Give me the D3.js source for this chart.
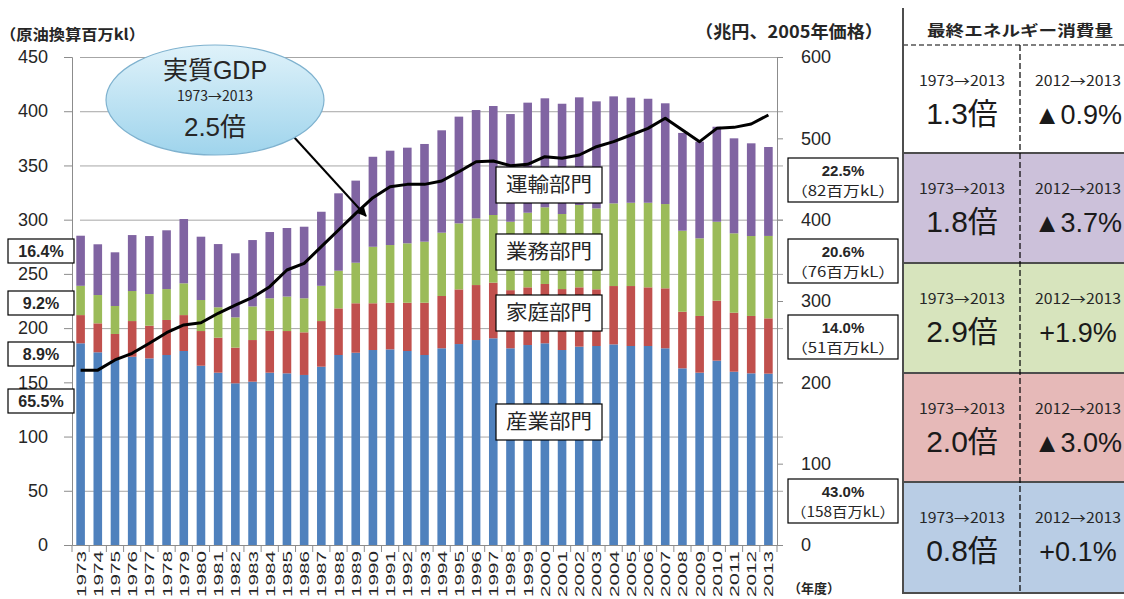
<!DOCTYPE html>
<html>
<head>
<meta charset="utf-8">
<script src="https://cdn.jsdelivr.net/npm/d3@7"></script>
<style>
  body { margin: 0; background: #fff; }
  svg { font-family: "Liberation Sans", "Noto Sans CJK JP", sans-serif; }
  .grid line { stroke: #a6a6a6; stroke-width: 1; }
  .grid path { display: none; }
  .axis-left text, .axis-right text { font-size: 18px; fill: #262626; }
  .jp { font-family: "Noto Sans CJK JP", sans-serif; }
</style>
</head>
<body>
<div id="chart"></div>
<script>
// data (百万kl, 兆円)
const years = d3.range(1973, 2014);
const industry = [186, 177.7, 170.6, 173.6, 172.1, 175.2, 178.9, 165.3, 158.9, 149.1, 150.6, 158.9, 158.3, 156.8, 164.4, 175.2, 177.3, 179.8, 180.4, 178.9, 175.2, 181.4, 185.3, 189, 190.6, 181.4, 184.4, 186, 179.8, 182.9, 183.5, 185, 183.5, 183.5, 181.4, 162.9, 158.9, 170, 159.8, 158.3, 158];
const household = [26, 26.7, 24, 32.9, 30.1, 32.3, 33.1, 32, 32.3, 32.9, 38.4, 38.7, 39, 39.3, 42.1, 43, 45.6, 43.1, 43, 44.5, 48.2, 48.2, 50.4, 50.7, 51.3, 53.6, 53.2, 54.7, 56.2, 54.7, 52.3, 53.8, 55.3, 54.1, 55.3, 52.2, 52.3, 55.3, 54.4, 52.9, 51];
const commercial = [27, 26.1, 25.8, 27.7, 29.2, 28.5, 29.3, 28.6, 28, 27.9, 31, 29.9, 31.8, 31.4, 32.5, 34.7, 37.4, 52.1, 53.2, 54.8, 56.3, 58.4, 60.9, 61.5, 62.4, 63.1, 68.8, 70.7, 69.2, 75.9, 74.6, 76.2, 76.8, 78, 77.7, 74.7, 71.6, 72.8, 73.2, 73.7, 76];
const transport = [46.2, 46.8, 49.5, 51.6, 53.5, 54.2, 59.3, 58.4, 58.3, 59.1, 61.2, 61.1, 63.2, 66, 68.3, 71.4, 75.7, 83, 87, 88.2, 90.1, 94.4, 98.4, 99.9, 100.5, 99.3, 101.5, 100.5, 101.7, 99.3, 98.7, 98.7, 96.9, 95.9, 92.9, 90.2, 89.1, 87.6, 87.6, 85.5, 82];
const gdp = [215, 215, 227.5, 235.7, 248, 261, 270.5, 273.3, 284.9, 295, 304.5, 317.6, 338.1, 346.3, 366.8, 387.3, 407.8, 427, 440.5, 443.4, 443.4, 447.5, 459, 471.3, 472.1, 466.4, 468.1, 477.4, 475.4, 479.5, 489.7, 495.9, 504.1, 512.3, 524.6, 510.2, 495.9, 512.3, 513.5, 517.6, 528.7];

const sectorKeys = ['industry', 'household', 'commercial', 'transport'];
const sectorColors = ['#4f81bd', '#c0504d', '#9bbb59', '#8064a2'];
const sectorNames = ['産業部門', '家庭部門', '業務部門', '運輸部門'];
const leftTicks = d3.range(0, 451, 50);
const rightTicks = d3.range(0, 601, 100);

// share boxes: 1973 on the left, 2013 on the right
const shares1973 = ['65.5%', '8.9%', '9.2%', '16.4%'];
const shares2013 = ['43.0%', '14.0%', '20.6%', '22.5%'];
const amounts2013 = ['（158百万kL）', '（51百万kL）', '（76百万kL）', '（82百万kL）'];

// side table
const tableFills = ['#ffffff', '#ccc1da', '#d7e4bd', '#e6b9b8', '#b9cde5'];
const ratio1973 = ['1.3倍', '1.8倍', '2.9倍', '2.0倍', '0.8倍'];
const change2012 = ['▲0.9%', '▲3.7%', '+1.9%', '▲3.0%', '+0.1%'];

const W = 1124, H = 599;
const plot = {left: 72, right: 777, top: 57, bottom: 545};

const svg = d3.select('#chart').append('svg')
    .attr('width', W)
    .attr('height', H);

const defs = svg.append('defs');

// scales
const x = d3.scaleBand()
    .domain(years)
    .range([plot.left, plot.right])
    .paddingInner(0.5)
    .paddingOuter(0.25);
const yLeft = d3.scaleLinear().domain([0, 450]).range([plot.bottom, plot.top]);
const yRight = d3.scaleLinear().domain([0, 600]).range([plot.bottom, plot.top]);

// grid
svg.append('g')
    .attr('class', 'grid')
    .attr('transform', `translate(${plot.left},0)`)
    .call(d3.axisLeft(yLeft).tickValues(leftTicks.slice(1)).tickSize(-(plot.right - plot.left + 6)).tickFormat(''))
    .call(g => g.selectAll('line').attr('x1', 8));

// left axis
const leftAxis = svg.append('g')
    .attr('class', 'axis-left')
    .attr('transform', `translate(${plot.left},0)`)
    .call(d3.axisLeft(yLeft).tickValues(leftTicks).tickSize(8).tickPadding(16));
leftAxis.select('.domain').attr('stroke', '#8c8c8c');
leftAxis.selectAll('line').attr('stroke', '#8c8c8c');

// right axis
const rightAxis = svg.append('g')
    .attr('class', 'axis-right')
    .attr('transform', `translate(${plot.right},0)`)
    .call(d3.axisRight(yRight).tickValues(rightTicks).tickSize(6).tickPadding(18));
rightAxis.select('.domain').attr('stroke', '#8c8c8c');
rightAxis.selectAll('line').attr('stroke', '#8c8c8c');
rightAxis.selectAll('text').attr('text-anchor', 'start');

// stacked bars
const rows = years.map((yr, i) => ({
  year: yr,
  industry: industry[i],
  household: household[i],
  commercial: commercial[i],
  transport: transport[i]
}));
const stacked = d3.stack().keys(sectorKeys)(rows);

svg.append('g').selectAll('g')
  .data(stacked)
  .join('g')
    .attr('fill', (d, i) => sectorColors[i])
  .selectAll('rect')
  .data(d => d)
  .join('rect')
    .attr('x', d => x(d.data.year))
    .attr('width', x.bandwidth())
    .attr('y', d => yLeft(d[1]))
    .attr('height', d => yLeft(d[0]) - yLeft(d[1]));

// x axis
const xAxis = svg.append('g')
    .attr('transform', `translate(0,${plot.bottom})`)
    .call(d3.axisBottom(x).tickSize(0).tickFormat(''));
xAxis.select('.domain').attr('stroke', '#8c8c8c');

// ticks between the bars
svg.append('g').selectAll('line')
  .data(years.concat([2014]))
  .join('line')
    .attr('x1', d => (d === 2014 ? plot.right : x(d) - x.step() * 0.25))
    .attr('x2', d => (d === 2014 ? plot.right : x(d) - x.step() * 0.25))
    .attr('y1', plot.bottom)
    .attr('y2', plot.bottom + 7)
    .attr('stroke', '#8c8c8c');

// year labels
svg.append('g').selectAll('text')
  .data(years)
  .join('text')
    .attr('transform', d => `translate(${x(d) + x.bandwidth() / 2 + 5},${plot.bottom + 6}) rotate(-90)`)
    .attr('text-anchor', 'end')
    .attr('font-size', 13)
    .attr('fill', '#262626')
    .attr('textLength', 46)
    .attr('lengthAdjust', 'spacingAndGlyphs')
    .text(d => d);

// GDP line
const gdpLine = d3.line()
    .x((d, i) => x(years[i]) + x.bandwidth() / 2)
    .y(d => yRight(d));
svg.append('path')
    .datum(gdp)
    .attr('fill', 'none')
    .attr('stroke', '#000')
    .attr('stroke-width', 3)
    .attr('stroke-linejoin', 'round')
    .attr('d', gdpLine);

// axis titles
svg.append('text')
    .attr('class', 'jp')
    .attr('x', 0).attr('y', 40)
    .attr('font-size', 15).attr('font-weight', 'bold').attr('fill', '#262626')
    .attr('textLength', 145).attr('lengthAdjust', 'spacingAndGlyphs')
    .text('（原油換算百万kl）');
svg.append('text')
    .attr('class', 'jp')
    .attr('x', 695).attr('y', 38)
    .attr('font-size', 17).attr('font-weight', 'bold').attr('fill', '#262626')
    .attr('textLength', 188).attr('lengthAdjust', 'spacingAndGlyphs')
    .text('（兆円、2005年価格）');
svg.append('text')
    .attr('class', 'jp')
    .attr('x', 788).attr('y', 593)
    .attr('font-size', 13).attr('font-weight', 'bold').attr('fill', '#262626')
    .text('（年度）');

// sector name boxes inside the plot
const sectorLabelY = [422, 313, 252, 185];
sectorNames.forEach((name, i) => {
  const g = svg.append('g').attr('transform', `translate(549,${sectorLabelY[i]})`);
  g.append('rect')
      .attr('x', -53).attr('y', -18).attr('width', 106).attr('height', 36)
      .attr('fill', '#fff').attr('stroke', '#000').attr('stroke-width', 1.2);
  g.append('text')
      .attr('class', 'jp')
      .attr('x', -43).attr('dy', '0.35em')
      .attr('font-size', 20).attr('fill', '#262626')
      .attr('textLength', 86).attr('lengthAdjust', 'spacingAndGlyphs')
      .text(name);
});

// 1973 share boxes (left)
const leftBoxY = [401, 354, 303, 251];
shares1973.forEach((s, i) => {
  svg.append('rect')
      .attr('x', 8).attr('y', leftBoxY[i] - 12).attr('width', 66).attr('height', 24)
      .attr('fill', '#fff').attr('stroke', '#000').attr('stroke-width', 1.2);
  svg.append('text')
      .attr('x', 41).attr('y', leftBoxY[i]).attr('dy', '0.36em')
      .attr('text-anchor', 'middle')
      .attr('font-size', 16).attr('font-weight', 'bold').attr('fill', '#262626')
      .text(s);
});

// 2013 share boxes (right)
const rightBoxY = [501, 337, 261, 180];
shares2013.forEach((s, i) => {
  const g = svg.append('g').attr('transform', `translate(843,${rightBoxY[i]})`);
  g.append('rect')
      .attr('x', -55).attr('y', -22).attr('width', 110).attr('height', 44)
      .attr('fill', '#fff').attr('stroke', '#000').attr('stroke-width', 1.2);
  g.append('text')
      .attr('text-anchor', 'middle').attr('y', -4)
      .attr('font-size', 15).attr('font-weight', 'bold').attr('fill', '#262626')
      .text(s);
  g.append('text')
      .attr('class', 'jp')
      .attr('text-anchor', 'middle').attr('y', 16)
      .attr('font-size', 14).attr('fill', '#262626')
      .attr('textLength', 104).attr('lengthAdjust', 'spacingAndGlyphs')
      .text(amounts2013[i]);
});

// GDP bubble with arrow
const grad = defs.append('linearGradient')
    .attr('id', 'bubbleFill')
    .attr('x1', 0).attr('y1', 0).attr('x2', 0).attr('y2', 1);
grad.append('stop').attr('offset', '0%').attr('stop-color', '#dff2fa');
grad.append('stop').attr('offset', '100%').attr('stop-color', '#9fd4ec');

defs.append('marker')
    .attr('id', 'arrowHead')
    .attr('viewBox', '0 0 10 10')
    .attr('refX', 9).attr('refY', 5)
    .attr('markerWidth', 5).attr('markerHeight', 5)
    .attr('orient', 'auto')
  .append('path')
    .attr('d', 'M0,0L10,5L0,10z')
    .attr('fill', '#000');

svg.append('line')
    .attr('x1', 293).attr('y1', 136)
    .attr('x2', 366).attr('y2', 216)
    .attr('stroke', '#000').attr('stroke-width', 2)
    .attr('marker-end', 'url(#arrowHead)');

svg.append('ellipse')
    .attr('cx', 215).attr('cy', 100).attr('rx', 109).attr('ry', 55)
    .attr('fill', 'url(#bubbleFill)')
    .attr('stroke', '#7fb2cf').attr('stroke-width', 1.2);
svg.append('text')
    .attr('x', 215).attr('y', 79).attr('text-anchor', 'middle')
    .attr('font-size', 25).attr('fill', '#262626')
    .text('実質GDP');
svg.append('text')
    .attr('class', 'jp')
    .attr('x', 215).attr('y', 101).attr('text-anchor', 'middle')
    .attr('font-size', 14).attr('fill', '#262626')
    .text('1973→2013');
svg.append('text')
    .attr('x', 215).attr('y', 136).attr('text-anchor', 'middle')
    .attr('font-size', 26).attr('fill', '#262626')
    .text('2.5倍');

// side table
const tableX = 903, colSplit = 1020, tableTop = 45;
const rowEdges = [45, 153, 263, 373, 482, 593];
const table = svg.append('g');

tableFills.forEach((c, i) => {
  table.append('rect')
      .attr('x', tableX).attr('y', rowEdges[i])
      .attr('width', W - tableX).attr('height', rowEdges[i + 1] - rowEdges[i])
      .attr('fill', c);

  const cy = rowEdges[i];
  [962, 1078].forEach((cx, k) => {
    table.append('text')
        .attr('class', 'jp')
        .attr('x', cx - 43).attr('y', cy + 41)
        .attr('font-size', 14).attr('fill', '#262626')
        .attr('textLength', 86).attr('lengthAdjust', 'spacingAndGlyphs')
        .text(k === 0 ? '1973→2013' : '2012→2013');
    table.append('text')
        .attr('x', cx).attr('y', cy + 79).attr('text-anchor', 'middle')
        .attr('font-size', k === 0 ? 30 : 27).attr('fill', '#1a1a1a')
        .text(k === 0 ? ratio1973[i] : change2012[i]);
  });
});

table.selectAll('line.sep')
  .data(rowEdges.slice(1))
  .join('line')
    .attr('x1', tableX).attr('x2', W)
    .attr('y1', d => d).attr('y2', d => d)
    .attr('stroke', '#4d4d4d').attr('stroke-width', 2);

table.append('line')
    .attr('x1', tableX).attr('x2', W)
    .attr('y1', tableTop).attr('y2', tableTop)
    .attr('stroke', '#000').attr('stroke-width', 1.2)
    .attr('stroke-dasharray', '5,3');
table.append('line')
    .attr('x1', colSplit).attr('x2', colSplit)
    .attr('y1', tableTop).attr('y2', rowEdges[5])
    .attr('stroke', '#000').attr('stroke-width', 1.2)
    .attr('stroke-dasharray', '6,3');
table.append('line')
    .attr('x1', tableX).attr('x2', tableX)
    .attr('y1', 8).attr('y2', rowEdges[5] + 1)
    .attr('stroke', '#4d4d4d').attr('stroke-width', 2);

table.append('text')
    .attr('class', 'jp')
    .attr('x', 927).attr('y', 36)
    .attr('font-size', 15).attr('font-weight', 'bold').attr('fill', '#262626')
    .attr('textLength', 186).attr('lengthAdjust', 'spacingAndGlyphs')
    .text('最終エネルギー消費量');
</script>
</body>
</html>
